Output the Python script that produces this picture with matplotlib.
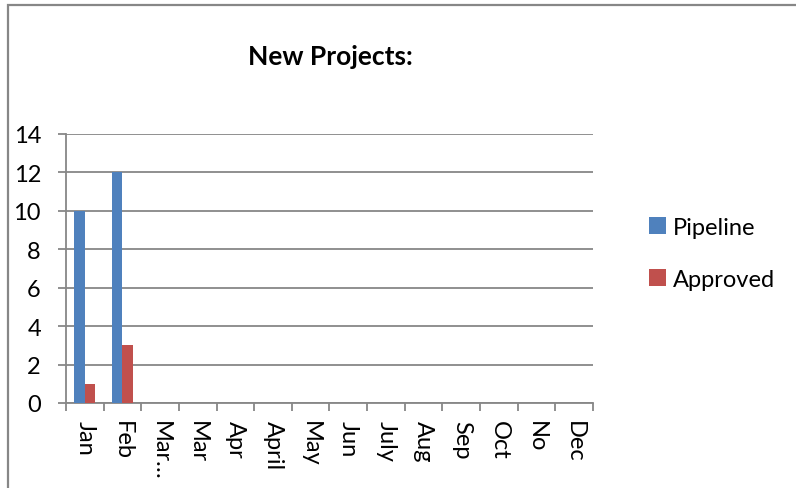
import matplotlib
matplotlib.use("Agg")
import matplotlib.pyplot as plt
import matplotlib.patches as mpatches
import numpy as np

categories = ["Jan", "Feb", "Mar…", "Mar", "Apr", "April", "May", "Jun",
              "July", "Aug", "Sep", "Oct", "No", "Dec"]
pipeline = [10, 12, 0, 0, 0, 0, 0, 0, 0, 0, 0, 0, 0, 0]
approved = [1, 3, 0, 0, 0, 0, 0, 0, 0, 0, 0, 0, 0, 0]
y_ticks = [0, 2, 4, 6, 8, 10, 12, 14]

plt.rcParams['font.family'] = ['Lato', 'DejaVu Sans']

W, H = 796, 489
fig = plt.figure(figsize=(W / 100, H / 100), dpi=100)
fig.patch.set_facecolor("white")

# outer chart border
border = mpatches.Rectangle((8 / W, -0.1), 1.2, 1.1 - 6 / H,
                            transform=fig.transFigure, fill=False,
                            edgecolor="#878787", linewidth=1.6)
fig.patches.append(border)

ax = fig.add_axes([66 / W, 1 - 404 / H, (593 - 66) / W, (404 - 134.7) / H])
x = np.arange(len(categories))
bw = 0.28
ax.bar(x - bw / 2, pipeline, width=bw, color="#4F81BD", label="Pipeline", zorder=3)
ax.bar(x + bw / 2, approved, width=bw, color="#C0504D", label="Approved", zorder=3)

ax.set_xlim(-0.5, len(categories) - 0.5)
ax.set_ylim(0, 14)
ax.set_yticks(y_ticks)
ax.set_yticklabels([str(v) for v in y_ticks], fontsize=17)
ax.yaxis.grid(True, color="#878787", linewidth=1.3, zorder=0)
ax.set_axisbelow(True)

ax.set_xticks(np.arange(-0.5, len(categories), 1.0))
ax.set_xticklabels([])
ax.set_xticks(x, minor=True)
ax.set_xticklabels(categories, minor=True, rotation=-90, fontsize=17,
                   va="top", ha="center")
ax.tick_params(axis="x", which="minor", length=0, pad=12)
ax.tick_params(axis="x", which="major", length=6, width=1.3, color="#878787", direction="out")
ax.tick_params(axis="y", length=6, width=1.3, color="#878787", direction="out", pad=12)

for s in ["top", "right"]:
    ax.spines[s].set_visible(False)
for s in ["left", "bottom"]:
    ax.spines[s].set_color("#878787")
    ax.spines[s].set_linewidth(1.3)

fig.text(330 / W, 1 - 57 / H, "New Projects:", fontsize=19, fontweight="bold",
         ha="center", va="center")

leg = fig.legend(loc="upper left", bbox_to_anchor=(649 / W, 1 - 218 / H),
                 frameon=False, fontsize=17, handlelength=0.7, handleheight=0.7,
                 handletextpad=0.3, labelspacing=1.3, borderpad=0,
                 borderaxespad=0)

fig.savefig("out.png", dpi=100)
